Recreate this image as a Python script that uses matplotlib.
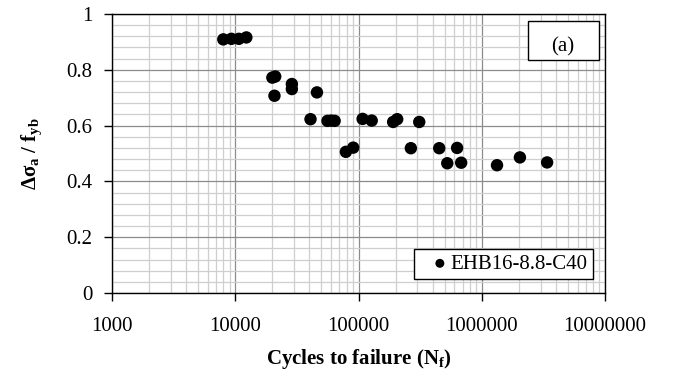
import numpy as np
import matplotlib.pyplot as plt
from matplotlib.ticker import FixedLocator, FuncFormatter, NullFormatter
from matplotlib.patches import Rectangle

plt.rcParams['font.family'] = ['Liberation Serif', 'DejaVu Serif']
plt.rcParams['mathtext.fontset'] = 'custom'
plt.rcParams['mathtext.rm'] = 'Liberation Serif'
plt.rcParams['mathtext.it'] = 'Liberation Serif:italic'
plt.rcParams['mathtext.bf'] = 'Liberation Serif:bold'

# ciclos a la falla y rango de tension normalizado (EHB16-8.8-C40)
ciclos = [8000, 9300, 10700, 12300,
          20000, 21100, 20800, 28800, 28800, 46000,
          40800, 56000, 60000, 64000, 79000, 90600,
          108000, 128000, 191000, 206000, 266000, 311000,
          452000, 525000, 631000, 681000,
          1330000, 2040000, 3390000]
tension = [0.909, 0.911, 0.911, 0.916,
           0.772, 0.776, 0.707, 0.749, 0.731, 0.719,
           0.623, 0.617, 0.618, 0.617, 0.506, 0.521,
           0.624, 0.618, 0.613, 0.623, 0.519, 0.613,
           0.519, 0.465, 0.520, 0.467,
           0.458, 0.486, 0.468]
serie = "EHB16-8.8-C40"

xticks = [1000, 10000, 100000, 1000000, 10000000]
yticks = [0, 0.2, 0.4, 0.6, 0.8, 1]

fig = plt.figure(figsize=(6.74, 3.78), dpi=100)
ax = fig.add_axes([112/674, 1 - 293/378, 493/674, 279/378])

ax.set_xscale("log")
ax.set_xlim(1000, 10000000)
ax.set_ylim(0, 1)

# rejilla: mayor cada decada / 0.2, menor 2..9 y cada 0.04
ax.xaxis.set_major_locator(FixedLocator(xticks))
minx = [m * 10**d for d in range(3, 7) for m in range(2, 10)]
ax.xaxis.set_minor_locator(FixedLocator(minx))
ax.xaxis.set_minor_formatter(NullFormatter())
ax.xaxis.set_major_formatter(FuncFormatter(lambda v, p: "%d" % round(v)))
ax.yaxis.set_major_locator(FixedLocator(yticks))
ax.yaxis.set_minor_locator(FixedLocator(np.arange(0, 1.001, 0.04)))
ax.yaxis.set_major_formatter(FuncFormatter(lambda v, p: "%g" % v))

ax.grid(which="major", color="#8c8c8c", linewidth=0.9)
ax.grid(which="minor", color="#cfcfcf", linewidth=0.9)
ax.set_axisbelow(True)

ax.tick_params(which="major", direction="out", length=6, width=1,
               labelsize=15, pad=8, color="black")
ax.tick_params(axis="x", which="major", pad=11)
ax.tick_params(which="minor", length=0)
for s in ax.spines.values():
    s.set_color("black")
    s.set_linewidth(1)

ax.scatter(ciclos, tension, s=80, color="black", zorder=3, label=serie,
           edgecolors="none")

ax.set_xlabel(r"Cycles to failure (N$_\mathbf{f}$)", fontsize=15,
              fontweight="bold", labelpad=8)
ax.set_ylabel(r"Δσ$_\mathbf{a}$ / f$_\mathbf{yb}$", fontsize=15,
              fontweight="bold", labelpad=16)

# recuadro (a)
ax.add_patch(Rectangle((416/493, 233/279), 71/493, 39/279,
                       transform=ax.transAxes, facecolor="white",
                       edgecolor="black", linewidth=1, zorder=4))
ax.text(451/493, 246/279, "(a)", transform=ax.transAxes, fontsize=15,
        ha="center", va="center", zorder=5)

leg = ax.legend(loc="lower right", bbox_to_anchor=(481/493, 14/279),
                borderaxespad=0, fontsize=15, fancybox=False,
                framealpha=1, edgecolor="black", markerscale=0.72,
                handletextpad=-0.45, handlelength=1.95, borderpad=0.25)
leg.get_frame().set_linewidth(1)

fig.savefig("out.png", dpi=100)
